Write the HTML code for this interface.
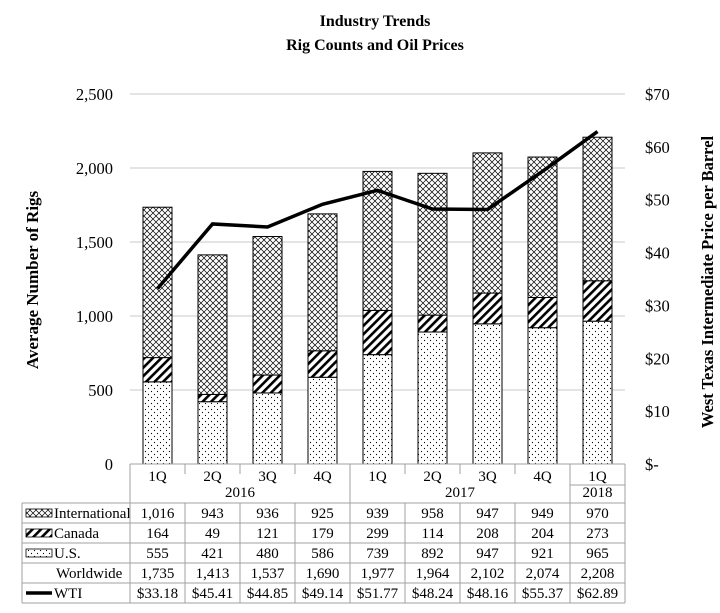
<!DOCTYPE html>
<html><head><meta charset="utf-8"><style>
body{margin:0;background:#fff}
svg, svg text{font-family:"Liberation Serif","Times New Roman",serif}
</style></head><body>
<svg id="c" width="720" height="608" viewBox="0 0 720 608">
<defs>
<pattern id="pX" width="6" height="6" patternUnits="userSpaceOnUse"><rect width="6" height="6" fill="#fff"/><path d="M0 0L6 6M6 0L0 6" stroke="#000" stroke-width="0.7"/></pattern>
<pattern id="pD" width="6" height="6" patternUnits="userSpaceOnUse" patternTransform="rotate(45)"><rect width="6" height="6" fill="#fff"/><rect width="2.6" height="6" fill="#000"/></pattern>
<pattern id="pU" width="6" height="6" patternUnits="userSpaceOnUse"><rect width="6" height="6" fill="#fff"/><circle cx="1.5" cy="1.5" r="0.6" fill="#000"/><circle cx="4.5" cy="4.5" r="0.6" fill="#000"/></pattern>
</defs>
<text x="375" y="26" text-anchor="middle" font-size="16" font-weight="bold">Industry Trends</text>
<text x="375" y="50" text-anchor="middle" font-size="16" font-weight="bold">Rig Counts and Oil Prices</text>
<text transform="translate(38,280) rotate(-90)" text-anchor="middle" font-size="17" font-weight="bold">Average Number of Rigs</text>
<text transform="translate(713,282) rotate(-90)" text-anchor="middle" font-size="16.5" font-weight="bold">West Texas Intermediate Price per Barrel</text>
<g id="grid"></g><g id="bars"></g><g id="line"></g><g id="table"></g>
</svg>
<script>
const quarters=["1Q","2Q","3Q","4Q","1Q","2Q","3Q","4Q","1Q"];
const years=[["2016",0,4],["2017",4,8],["2018",8,9]];
const intl=[1016,943,936,925,939,958,947,949,970];
const canada=[164,49,121,179,299,114,208,204,273];
const us=[555,421,480,586,739,892,947,921,965];
const worldwide=["1,735","1,413","1,537","1,690","1,977","1,964","2,102","2,074","2,208"];
const wti=[33.18,45.41,44.85,49.14,51.77,48.24,48.16,55.37,62.89];
const leftTicks=[0,500,1000,1500,2000,2500];
const leftLabels=["0","500","1,000","1,500","2,000","2,500"];
const rightTicks=[0,10,20,30,40,50,60,70];
const rightLabels=["$-","$10","$20","$30","$40","$50","$60","$70"];
const NS="http://www.w3.org/2000/svg";
const X0=130,CW=55,Y0=464,YT=94;
const y=v=>Y0-(v/2500)*(Y0-YT);
const y2=v=>Y0-(v/70)*(Y0-YT);
const xc=i=>X0+CW*(i+0.5);
function mk(p,t,a){const e=document.createElementNS(NS,t);for(const k in a)e.setAttribute(k,a[k]);p.appendChild(e);return e;}
const grid=document.getElementById('grid');
leftTicks.forEach((t,i)=>{
 if(t>0){const l=mk(grid,'line',{x1:X0,x2:625,y1:y(t),y2:y(t),stroke:'#c8c8c8'});
 
 }
 const tx=mk(grid,'text',{x:113,y:y(t)+6,'text-anchor':'end','font-size':16.5});tx.textContent=leftLabels[i];
 
 
});
rightTicks.forEach((t,i)=>{
 const tx=mk(grid,'text',{x:645,y:y2(t)+6,'font-size':16.5});tx.textContent=rightLabels[i];
 
 
});
const bars=document.getElementById('bars');
quarters.forEach((q,i)=>{
 const bw=29,bx=xc(i)-bw/2;
 let base=0;
 [[us,'pU','bar-us'],[canada,'pD','bar-canada'],[intl,'pX','bar-international']].forEach(([arr,p,n])=>{
  const v=arr[i];
  const r=mk(bars,'rect',{x:bx,y:y(base+v),width:bw,height:y(base)-y(base+v),fill:'url(#'+p+')',stroke:'#000','stroke-width':1});
  
  
  base+=v;
 });
});
const pl=mk(document.getElementById('line'),'polyline',{points:wti.map((v,i)=>xc(i)+','+y2(v)).join(' '),fill:'none',stroke:'#000','stroke-width':3.5});


const tb=document.getElementById('table');
const G='#a0a0a0';
function ln(x1,y1,x2,y2){mk(tb,'line',{x1,y1,x2,y2,stroke:G,'stroke-width':1});}
function tx(x,yy,s,n,anchor){const t=mk(tb,'text',{x,y:yy,'text-anchor':anchor||'middle','font-size':15});t.textContent=s;}
const R0=464,rowTop=503,rowH=20,XL=22,XR=625;
ln(X0,R0,XR,R0);ln(X0,R0,X0,rowTop);ln(XR,R0,XR,rowTop);
quarters.forEach((q,i)=>{tx(xc(i),R0+17,q,'x-tick-label');if(i>0)ln(X0+CW*i,R0,X0+CW*i,R0+10);});
years.forEach(([yr,a,b])=>{tx((X0+CW*a+X0+CW*b)/2,R0+33,yr,'year-label');if(a>0)ln(X0+CW*a,R0,X0+CW*a,rowTop);});
ln(X0+CW*8,R0+21,XR,R0+21);
const rows=[["International",intl.map(v=>v.toLocaleString('en-US')),'pX'],["Canada",canada.map(String),'pD'],["U.S.",us.map(String),'pU'],["Worldwide",worldwide,null],["WTI",wti.map(v=>'$'+v.toFixed(2)),'line']];
rows.forEach(([name,vals,key],r)=>{
 const top=rowTop+r*rowH;
 ln(XL,top,XR,top);
 if(key==='line'){const l=mk(tb,'line',{x1:26,x2:52,y1:top+10,y2:top+10,stroke:'#000','stroke-width':3.5});}
 else if(key){const k=mk(tb,'rect',{x:26,y:top+6,width:26,height:8,fill:'url(#'+key+')',stroke:'#000','stroke-width':0.8});}
 tx(key?54:56,top+15,name,'row-label','start');
 vals.forEach((v,i)=>tx(xc(i),top+15,v,'table-value'));
});
const bot=rowTop+rows.length*rowH;
ln(XL,bot,XR,bot);ln(XL,rowTop,XL,bot);
for(let i=0;i<=9;i++)ln(X0+CW*i,rowTop,X0+CW*i,bot);
</script>
</body></html>
